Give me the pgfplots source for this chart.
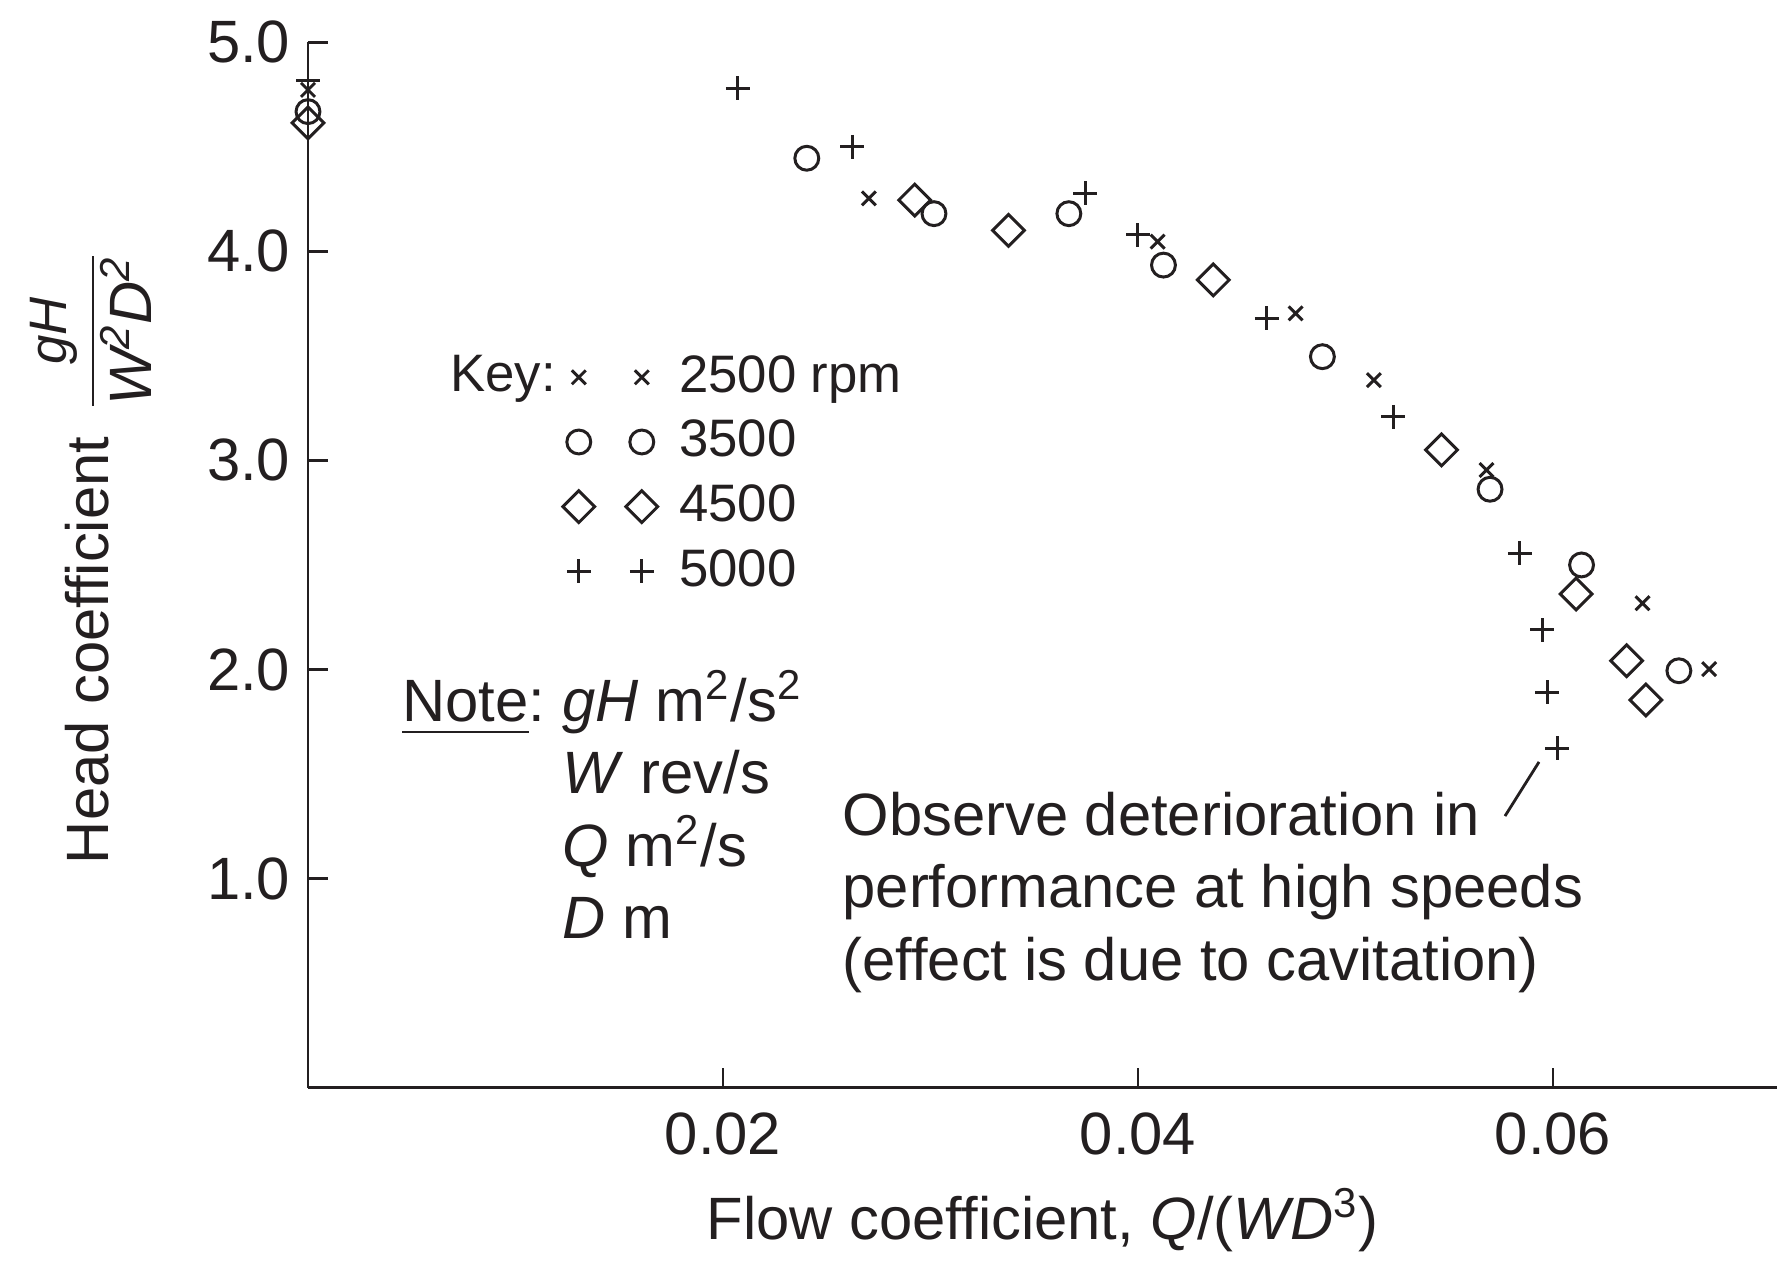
\documentclass[border=0pt]{standalone}
\usepackage{fontspec}
\setmainfont{Liberation Sans}
\usepackage{amsmath}
\usepackage{pgfplots}
\usepackage{pgfplotstable}
\pgfplotsset{compat=1.18}

\definecolor{ink}{RGB}{35,31,32}

% flow coefficient vs head coefficient
\pgfplotstableread{
x y
0       4.772
0.02703 4.253
0.04095 4.046
0.04760 3.703
0.05137 3.384
0.05680 2.954
0.06432 2.317
0.06753 2.002
}\rpmA
\pgfplotstableread{
x y
0       4.668
0.02404 4.445
0.03017 4.180
0.03667 4.180
0.04123 3.934
0.04889 3.496
0.05697 2.862
0.06138 2.500
0.06607 1.994
}\rpmB
\pgfplotstableread{
x y
0       4.614
0.02924 4.245
0.03376 4.100
0.04363 3.863
0.05463 3.050
0.06112 2.361
0.06355 2.042
0.06448 1.854
}\rpmC
\pgfplotstableread{
x y
0       4.819
0.02072 4.779
0.02622 4.500
0.03745 4.277
0.04000 4.078
0.04621 3.679
0.05230 3.209
0.05841 2.556
0.05949 2.189
0.05973 1.891
0.06020 1.623
}\rpmD

\newcommand{\ul}[1]{\setbox0\hbox{#1}\rlap{\rule[-3.3pt]{\wd0}{0.75pt}}#1}
\newcommand{\keyfont}{\fontsize{15}{18}\selectfont}

\begin{document}
\fontsize{17}{20.5}\selectfont
\color{ink}
\begin{tikzpicture}
\path[use as bounding box] (-30.8mm,-18.23mm) rectangle (146.9mm,108.77mm);
\begin{axis}[
    at={(0,0)}, anchor=south west,
    scale only axis,
    width=146.9mm, height=104.55mm,
    xmin=0, xmax=0.0708,
    ymin=0, ymax=5,
    clip=false,
    axis lines=left,
    axis line style={-, line width=0.8pt, ink},
    tick align=inside,
    major tick length=2mm,
    tick style={line width=0.8pt, ink},
    scaled x ticks=false,
    xtick={0.02,0.04,0.06},
    xticklabels={0.02,0.04,0.06},
    ytick={1,2,3,4,5},
    yticklabels={1.0,2.0,3.0,4.0,5.0},
    xticklabel style={yshift=-1.4pt},
    yticklabel style={xshift=0.8pt},
    every axis x label/.style={at={(axis description cs:0.5,0)}, anchor=base, yshift=-15.2mm},
    every axis y label/.style={at={(axis description cs:-0.1361,0.5066)}, anchor=base, rotate=90},
    xlabel={Flow coefficient, \textit{Q}/(\textit{WD}\textsuperscript{3})},
    ylabel={Head coefficient\, $\genfrac{}{}{0.6pt}{0}{\mbox{\fontsize{15}{17}\selectfont\itshape gH}}{\mbox{\itshape W\textsuperscript{2}D\textsuperscript{2}}}$},
    legend style={at={(axis cs:0.01202,3.515)}, anchor=north west, draw=none, fill=none,
        inner sep=0pt, row sep=4.8pt, column sep=0pt,
        nodes={inner sep=0pt, text height=11pt, text depth=2.6pt, font=\keyfont}},
    legend cell align=left,
    legend image code/.code={\path (-2mm,0mm) (9.96mm,0mm);
        \draw[#1] plot coordinates {(0mm,0mm) (6.3mm,0mm)};},
]
\addplot[only marks, ink, mark=x, mark size=2.8pt, mark options={line width=0.85pt}] table {\rpmA};
\addlegendentry{2500 rpm}
\addplot[only marks, ink, mark=o, mark size=3.4pt, mark options={line width=0.85pt}] table {\rpmB};
\addlegendentry{3500}
\addplot[only marks, ink, mark=square, mark size=3.2pt, mark options={rotate=45, line width=0.85pt}] table {\rpmC};
\addlegendentry{4500}
\addplot[only marks, ink, mark=+, mark size=3.4pt, mark options={line width=0.85pt}] table {\rpmD};
\addlegendentry{5000}

\node[anchor=base west, inner sep=0pt, font=\keyfont] at (axis cs:0.00683,3.330) {Key:};
\node[anchor=base west, inner sep=0pt] at (axis cs:0.004516,1.750)
  {\begin{tabular}[t]{@{}l@{\hspace{5pt}}l@{}}
   \ul{Note}: & \textit{gH} m\textsuperscript{2}/s\textsuperscript{2}\\
   & \textit{W} rev/s\\
   & \textit{Q} m\textsuperscript{2}/s\\
   & \textit{D} m
   \end{tabular}};
\node[anchor=base west, inner sep=0pt] at (axis cs:0.02573,1.204)
  {\begin{tabular}[t]{@{}l@{}}
   Observe deterioration in\\
   performance at high speeds\\
   (effect is due to cavitation)
   \end{tabular}};
\draw[ink, line width=0.8pt] (axis cs:0.05933,1.558) -- (axis cs:0.05769,1.299);
\end{axis}
\end{tikzpicture}
\end{document}
